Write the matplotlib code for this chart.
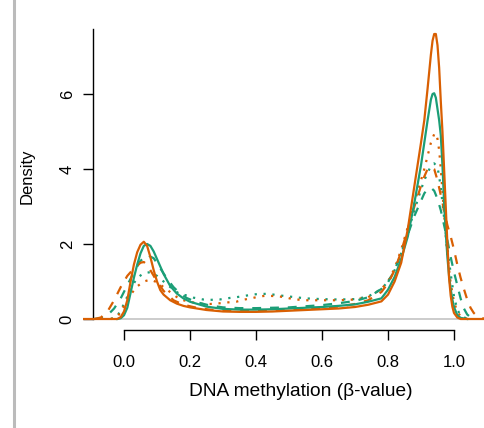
import matplotlib
matplotlib.use("Agg")
import matplotlib.pyplot as plt
from matplotlib.lines import Line2D

plt.rcParams['font.family'] = ['Liberation Sans', 'DejaVu Sans']

ORANGE = "#D95F02"
GREEN = "#1B9E77"

# ---- data (density estimates) ----
orange_solid_x = [-0.13, -0.02, -0.01, 0.0, 0.01, 0.02, 0.03, 0.04, 0.05, 0.06, 0.07, 0.08, 0.09, 0.10, 0.11, 0.12, 0.14, 0.16, 0.18, 0.20, 0.25, 0.30, 0.35, 0.40, 0.45, 0.50, 0.55, 0.60, 0.65, 0.70, 0.74, 0.78, 0.80, 0.82, 0.84, 0.86, 0.88, 0.90, 0.91, 0.92, 0.93, 0.935, 0.94, 0.945, 0.95, 0.955, 0.96, 0.965, 0.97, 0.975, 0.98, 0.985, 0.99, 0.995, 1.00, 1.01, 1.02, 1.10]
orange_solid_y = [0.0, 0.0, 0.05, 0.2, 0.5, 1.0, 1.45, 1.78, 1.98, 2.06, 1.95, 1.65, 1.3, 1.0, 0.77, 0.65, 0.5, 0.41, 0.35, 0.31, 0.24, 0.2, 0.19, 0.19, 0.2, 0.22, 0.24, 0.26, 0.28, 0.32, 0.38, 0.47, 0.65, 1.0, 1.5, 2.4, 3.55, 4.7, 5.3, 6.15, 7.05, 7.42, 7.6, 7.6, 7.3, 6.7, 5.8, 5.0, 4.0, 3.0, 2.0, 1.1, 0.62, 0.33, 0.16, 0.04, 0.0, 0.0]

green_solid_x = [-0.02, -0.01, 0.0, 0.01, 0.02, 0.03, 0.04, 0.05, 0.06, 0.07, 0.08, 0.09, 0.10, 0.11, 0.12, 0.14, 0.16, 0.18, 0.20, 0.25, 0.30, 0.35, 0.40, 0.45, 0.50, 0.55, 0.60, 0.65, 0.70, 0.74, 0.78, 0.80, 0.82, 0.84, 0.86, 0.88, 0.90, 0.91, 0.92, 0.93, 0.935, 0.94, 0.945, 0.95, 0.955, 0.96, 0.965, 0.97, 0.975, 0.98, 0.985, 0.99, 0.995, 1.00, 1.01, 1.02, 1.04]
green_solid_y = [0.0, 0.02, 0.1, 0.3, 0.7, 1.1, 1.45, 1.75, 1.95, 2.0, 1.95, 1.8, 1.6, 1.4, 1.2, 0.88, 0.68, 0.55, 0.46, 0.33, 0.27, 0.25, 0.25, 0.26, 0.28, 0.3, 0.32, 0.35, 0.39, 0.46, 0.55, 0.78, 1.12, 1.6, 2.2, 3.1, 4.1, 4.7, 5.3, 5.85, 6.0, 6.02, 5.9, 5.6, 5.3, 4.9, 4.1, 3.1, 2.3, 1.65, 1.15, 0.8, 0.52, 0.32, 0.1, 0.03, 0.0]

orange_dashed_x = [-0.09, -0.07, -0.05, -0.03, -0.01, 0.01, 0.03, 0.05, 0.06, 0.07, 0.08, 0.10, 0.12, 0.15, 0.18, 0.22, 0.26, 0.30, 0.35, 0.40, 0.45, 0.50, 0.55, 0.60, 0.65, 0.70, 0.74, 0.78, 0.80, 0.82, 0.84, 0.86, 0.88, 0.90, 0.91, 0.92, 0.93, 0.94, 0.95, 0.96, 0.97, 0.98, 0.99, 1.00, 1.01, 1.02, 1.03, 1.04, 1.05, 1.06, 1.07, 1.08, 1.10]
orange_dashed_y = [0.0, 0.04, 0.2, 0.5, 0.85, 1.15, 1.35, 1.5, 1.52, 1.45, 1.3, 1.0, 0.75, 0.5, 0.38, 0.3, 0.25, 0.23, 0.22, 0.22, 0.23, 0.25, 0.27, 0.3, 0.33, 0.4, 0.5, 0.72, 0.95, 1.3, 1.8, 2.4, 3.0, 3.55, 3.8, 4.0, 4.06, 4.0, 3.7, 3.3, 2.9, 2.5, 2.2, 1.85, 1.45, 1.1, 0.8, 0.52, 0.3, 0.16, 0.08, 0.03, 0.0]

green_dashed_x = [-0.09, -0.07, -0.05, -0.03, -0.01, 0.01, 0.03, 0.05, 0.07, 0.09, 0.11, 0.13, 0.15, 0.17, 0.19, 0.22, 0.26, 0.30, 0.35, 0.40, 0.45, 0.50, 0.55, 0.60, 0.65, 0.70, 0.74, 0.78, 0.80, 0.82, 0.84, 0.86, 0.88, 0.90, 0.91, 0.92, 0.93, 0.94, 0.95, 0.96, 0.97, 0.98, 0.99, 1.00, 1.01, 1.02, 1.03, 1.04, 1.05, 1.07]
green_dashed_y = [0.0, 0.02, 0.1, 0.28, 0.55, 0.9, 1.25, 1.55, 1.71, 1.62, 1.35, 1.08, 0.85, 0.68, 0.56, 0.45, 0.36, 0.31, 0.29, 0.29, 0.3, 0.31, 0.34, 0.37, 0.42, 0.48, 0.58, 0.8, 0.98, 1.3, 1.75, 2.25, 2.75, 3.15, 3.35, 3.47, 3.5, 3.42, 3.2, 2.9, 2.5, 2.1, 1.65, 1.25, 0.9, 0.55, 0.28, 0.12, 0.05, 0.0]

orange_dotted_x = [-0.04, -0.02, 0.0, 0.02, 0.04, 0.06, 0.08, 0.10, 0.12, 0.15, 0.17, 0.21, 0.24, 0.26, 0.29, 0.31, 0.34, 0.36, 0.39, 0.41, 0.43, 0.46, 0.49, 0.51, 0.55, 0.60, 0.65, 0.70, 0.74, 0.78, 0.80, 0.82, 0.84, 0.86, 0.88, 0.90, 0.91, 0.92, 0.93, 0.94, 0.945, 0.95, 0.955, 0.96, 0.965, 0.97, 0.975, 0.98, 0.99, 1.00, 1.01, 1.02, 1.04]
orange_dotted_y = [0.0, 0.05, 0.35, 0.65, 0.87, 1.0, 1.05, 0.98, 0.85, 0.65, 0.52, 0.44, 0.4, 0.4, 0.42, 0.44, 0.46, 0.51, 0.56, 0.6, 0.62, 0.61, 0.58, 0.53, 0.5, 0.5, 0.5, 0.52, 0.58, 0.8, 1.0, 1.35, 1.85, 2.45, 3.1, 3.7, 4.0, 4.35, 4.7, 4.93, 4.95, 4.8, 4.5, 4.0, 3.4, 2.8, 2.2, 1.7, 0.95, 0.45, 0.2, 0.07, 0.0]

green_dotted_x = [-0.04, -0.02, 0.0, 0.02, 0.04, 0.06, 0.08, 0.10, 0.12, 0.15, 0.17, 0.19, 0.21, 0.24, 0.26, 0.29, 0.31, 0.34, 0.36, 0.39, 0.41, 0.44, 0.46, 0.49, 0.51, 0.55, 0.60, 0.65, 0.70, 0.74, 0.78, 0.80, 0.82, 0.84, 0.86, 0.88, 0.90, 0.91, 0.92, 0.93, 0.94, 0.95, 0.955, 0.96, 0.965, 0.97, 0.975, 0.98, 0.99, 1.00, 1.01, 1.02, 1.04]
green_dotted_y = [0.0, 0.08, 0.4, 0.8, 1.1, 1.22, 1.25, 1.15, 1.0, 0.78, 0.66, 0.63, 0.57, 0.52, 0.51, 0.52, 0.55, 0.58, 0.61, 0.65, 0.67, 0.67, 0.64, 0.61, 0.59, 0.55, 0.53, 0.52, 0.53, 0.6, 0.8, 1.0, 1.3, 1.75, 2.3, 2.9, 3.45, 3.7, 3.9, 4.08, 4.15, 4.05, 3.8, 3.5, 3.1, 2.7, 2.3, 1.9, 1.2, 0.6, 0.25, 0.1, 0.0]

x_ticks = [0.0, 0.2, 0.4, 0.6, 0.8, 1.0]
x_tick_labels = ["0.0", "0.2", "0.4", "0.6", "0.8", "1.0"]
y_ticks = [0, 2, 4, 6]
y_tick_labels = ["0", "2", "4", "6"]

# ---- figure ----
W, H = 485, 428
fig = plt.figure(figsize=(W / 100, H / 100), dpi=100)
left_px, right_px, top_px, bottom_px = 83, 485, 20, 322
ax = fig.add_axes([left_px / W, 1 - bottom_px / H, (right_px - left_px) / W, (bottom_px - top_px) / H])
x0_px, x1_px = 124, 454
xpu = (x1_px - x0_px)
ypu = 37.5
y0_px = 319
ax.set_xlim((left_px - x0_px) / xpu, (right_px - x0_px) / xpu)
ax.set_ylim((y0_px - bottom_px) / ypu, (y0_px - top_px) / ypu)

ax.axhline(0, color="#c4c4c4", lw=1.2, zorder=1)

lw = 1.6
ax.plot(green_dotted_x, green_dotted_y, color=GREEN, lw=lw, linestyle=(0, (1, 3)), zorder=2)
ax.plot(orange_dotted_x, orange_dotted_y, color=ORANGE, lw=lw, linestyle=(0, (1, 3)), zorder=2)
ax.plot(green_dashed_x, green_dashed_y, color=GREEN, lw=lw, linestyle=(0, (4, 4)), zorder=3)
ax.plot(orange_dashed_x, orange_dashed_y, color=ORANGE, lw=lw, linestyle=(0, (4, 4)), zorder=3)
ax.plot(green_solid_x, green_solid_y, color=GREEN, lw=lw, zorder=4)
ax.plot(orange_solid_x, orange_solid_y, color=ORANGE, lw=lw, zorder=5)

for s in ["top", "right"]:
    ax.spines[s].set_visible(False)
ax.spines["left"].set_position(("data", (93 - x0_px) / xpu))
ax.spines["left"].set_bounds(0, (y0_px - 29) / ypu)
ax.spines["bottom"].set_position(("outward", (330 - bottom_px) * 0.72))
ax.spines["bottom"].set_bounds(0, 1)
for s in ["left", "bottom"]:
    ax.spines[s].set_linewidth(1.0)
    ax.spines[s].set_color("black")

ax.set_xticks(x_ticks)
ax.set_xticklabels(x_tick_labels)
ax.set_yticks(y_ticks)
ax.set_yticklabels(y_tick_labels, rotation=90, va="center")
ax.tick_params(axis="both", length=7.2, width=1.0, labelsize=12, colors="black")
ax.tick_params(axis="x", pad=11)
ax.tick_params(axis="y", pad=6)

fig.text(301 / W, 1 - 391 / H, "DNA methylation (\u03b2-value)", ha="center", va="center", fontsize=13.8)
fig.text(27 / W, 1 - 176 / H, "Density", ha="center", va="center", rotation=90, fontsize=12)

fig.add_artist(Line2D([13.5 / W, 13.5 / W], [0, 1], transform=fig.transFigure, color="#bbbbbb", lw=2.2))

fig.savefig("out.png", dpi=100)
